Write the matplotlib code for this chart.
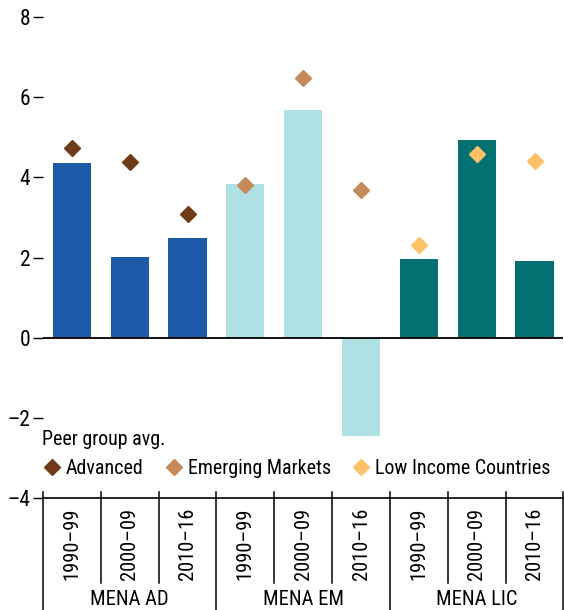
import matplotlib
matplotlib.use("Agg")
import matplotlib.pyplot as plt
import numpy as np

# ── Data ────────────────────────────────────────────────────────────────────
periods = ["1990–99", "2000–09", "2010–16"]
groups = ["MENA AD", "MENA EM", "MENA LIC"]

mena_ad = [4.35, 2.01, 2.48]
mena_em = [3.83, 5.67, -2.45]
mena_lic = [1.97, 4.94, 1.92]

peer_advanced = [4.74, 4.38, 3.08]
peer_emerging = [3.80, 6.47, 3.68]
peer_lic = [2.30, 4.59, 4.40]

yticks = [-4, -2, 0, 2, 4, 6, 8]

# ── Style ───────────────────────────────────────────────────────────────────
plt.rcParams['font.family'] = ['Roboto Condensed', 'Roboto', 'DejaVu Sans']
FS = 14.4
BAR_COLORS = ['#1d5ba8', '#afe0e3', '#037171']
DOT_COLORS = ['#6f3a17', '#c68a5a', '#ffc166']

fig = plt.figure(figsize=(5.64, 6.10), dpi=100)
ax = fig.add_axes([0.0762, 0.1836, 0.9228, 0.7885])

n = len(periods)
bar_sets = [mena_ad, mena_em, mena_lic]
dot_sets = [peer_advanced, peer_emerging, peer_lic]
labels = ["Advanced", "Emerging Markets", "Low Income Countries"]

for g in range(3):
    x = np.arange(n) + g * n
    ax.bar(x, bar_sets[g], width=0.66, color=BAR_COLORS[g], zorder=2)
    ax.plot(x, dot_sets[g], linestyle='none', marker='D', markersize=8,
            color=DOT_COLORS[g], label=labels[g], zorder=3)

ax.axhline(0, color='black', lw=1.3, zorder=4)

ax.set_xlim(-0.5, 3 * n - 0.5)
ax.set_ylim(-4, 8)
ax.set_yticks(yticks)
ax.set_yticklabels([f"{v}".replace('-', '\u2013') for v in yticks])
ax.tick_params(axis='y', direction='out', length=7, width=1, labelsize=15.5, pad=2)
ax.set_xticks([])
for s in ['top', 'right', 'left']:
    ax.spines[s].set_visible(False)
ax.spines['bottom'].set_linewidth(1.2)

# category labels and separators below the axis
trans = ax.get_xaxis_transform()
for i in range(3 * n):
    ax.text(i, -0.02, periods[i % n], rotation=90, ha='center', va='top',
            fontsize=FS + 0.4, transform=trans)
for k in range(3 * n + 1):
    xk = k - 0.5
    y_end = -0.245 if k % n == 0 else -0.177
    ax.plot([xk, xk], [0.012, y_end], color='black', lw=1.1,
            transform=trans, clip_on=False)
for g in range(3):
    ax.text(g * n + 1, -0.21, groups[g], ha='center', va='center',
            fontsize=FS + 0.4, transform=trans)

leg = ax.legend(loc='lower left', bbox_to_anchor=(-0.017, 0.025), ncol=3,
                frameon=False, title="Peer group avg.", fontsize=FS,
                title_fontsize=FS, handletextpad=0.2, columnspacing=1.0,
                handlelength=1.0, borderaxespad=0, labelspacing=0.5)
leg._legend_box.align = 'left'

fig.savefig('out.png', dpi=100)
